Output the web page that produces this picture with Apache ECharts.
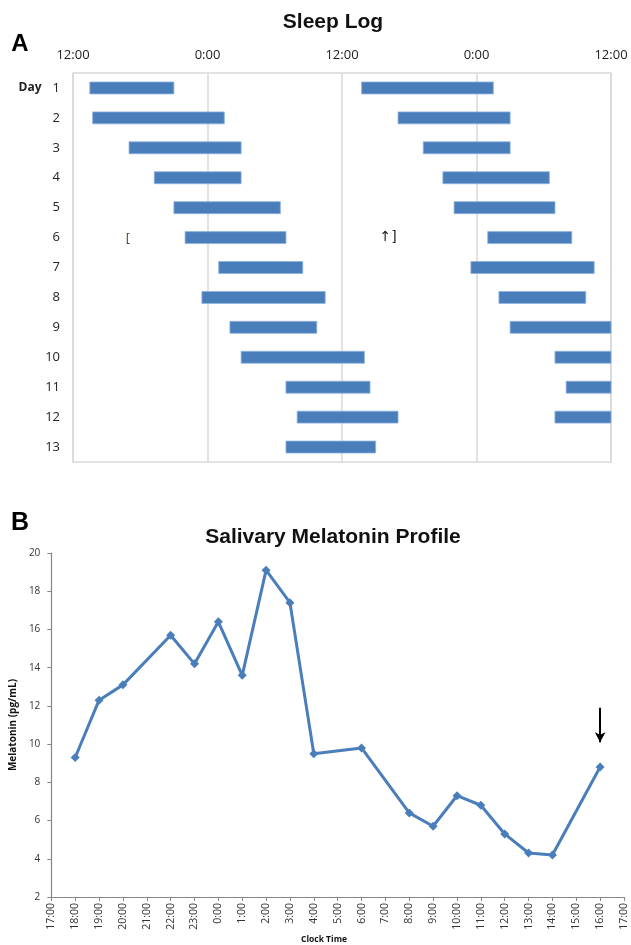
<!DOCTYPE html>
<html>
<head>
<meta charset="utf-8">
<script src="https://cdn.jsdelivr.net/npm/echarts@6/dist/echarts.min.js"></script>
<style>
  html, body { margin: 0; padding: 0; background: #ffffff; }
  #chart { width: 631px; height: 945px; }
</style>
</head>
<body>
<div id="chart"></div>
<script>
// ---- Sleep log (double-plotted): episodes in hours after noon of their own day ----
const days = ['1', '2', '3', '4', '5', '6', '7', '8', '9', '10', '11', '12', '13'];
const sleepOnset  = [1.5, 1.75, 5, 7.25, 9, 10, 13, 11.5, 14, 15, 19, 20, 19];
const sleepOffset = [9, 13.5, 15, 15, 18.5, 19, 20.5, 22.5, 21.75, 26, 26.5, 29, 27];
const logTicks = ['12:00', '0:00', '12:00', '0:00', '12:00'];

// ---- Salivary melatonin samples ----
const sampleTimes = ['18:00', '19:00', '20:00', '22:00', '23:00', '0:00', '1:00', '2:00', '3:00',
                     '4:00', '6:00', '8:00', '9:00', '10:00', '11:00', '12:00', '13:00', '14:00', '16:00'];
const melatonin = [9.3, 12.3, 13.1, 15.7, 14.2, 16.4, 13.6, 19.1, 17.4,
                   9.5, 9.8, 6.4, 5.7, 7.3, 6.8, 5.3, 4.3, 4.2, 8.8];
const arrowTime = '16:00';
const arrowSpan = [11.9, 10.1];

const BLUE = '#4a7ebb';
const LABEL_FONT = '"Open Sans", "Liberation Sans", sans-serif';
const TITLE_FONT = '"Liberation Sans", Arial, sans-serif';

// clock time -> hours on a 17:00..17:00 (+1 day) axis
function clockHours(t) {
  const [h, m] = t.split(':').map(Number);
  let v = h + m / 60;
  if (v < 17) v += 24;
  return v;
}

// left half: the day's own episode; right half: next day's episode shifted by 24 h
const sleepBars = [];
days.forEach((d, i) => {
  sleepBars.push([i, sleepOnset[i], sleepOffset[i]]);
  if (i + 1 < days.length) {
    sleepBars.push([i, sleepOnset[i + 1] + 24, sleepOffset[i + 1] + 24]);
  }
});

const melatoninPoints = sampleTimes.map((t, i) => [clockHours(t), melatonin[i]]);
const arrowX = clockHours(arrowTime);

function renderSleepBar(params, api) {
  const row = api.value(0);
  const p0 = api.coord([api.value(1), row]);
  const p1 = api.coord([api.value(2), row]);
  const h = api.size([0, 1])[1] * 0.4;
  const cs = params.coordSys;
  const shape = echarts.graphic.clipRectByRect(
    { x: p0[0], y: p0[1] - h / 2, width: p1[0] - p0[0], height: h },
    { x: cs.x, y: cs.y, width: cs.width, height: cs.height }
  );
  return shape && {
    type: 'rect',
    shape: shape,
    style: { fill: BLUE, stroke: '#8db3e2', lineWidth: 0.8 }
  };
}

const chart = echarts.init(document.getElementById('chart'), null, { renderer: 'canvas' });

chart.setOption({
  animation: false,
  backgroundColor: '#ffffff',
  grid: [
    { left: 73, top: 73, width: 538, height: 389, show: true, borderColor: '#d9d9d9', borderWidth: 1.5, backgroundColor: 'transparent' },
    { left: 49, top: 553, width: 575, height: 344 }
  ],
  xAxis: [
    {
      gridIndex: 0, type: 'value', position: 'top', min: 0, max: 48, interval: 12,
      axisLine: { show: false }, axisTick: { show: false },
      splitLine: { show: true, lineStyle: { color: '#d9d9d9', width: 1.5 } },
      axisLabel: {
        margin: 11, fontSize: 13, fontFamily: LABEL_FONT, color: '#222',
        formatter: v => logTicks[Math.round(v / 12)]
      }
    },
    {
      gridIndex: 1, type: 'value', min: 17, max: 41, interval: 1,
      axisLine: { show: true, lineStyle: { color: '#868686', width: 1.2 } },
      axisTick: { show: true, length: 4, lineStyle: { color: '#868686' } },
      splitLine: { show: false },
      axisLabel: {
        rotate: 90, margin: 6, fontSize: 10.5, fontFamily: LABEL_FONT, color: '#333',
        formatter: v => (Math.round(v) % 24) + ':00'
      }
    }
  ],
  yAxis: [
    {
      gridIndex: 0, type: 'category', data: days, inverse: true,
      axisLine: { show: false }, axisTick: { show: false }, splitLine: { show: false },
      axisLabel: {
        margin: 13, fontSize: 13, fontFamily: LABEL_FONT, color: '#222',
        formatter: v => v === days[0] ? '{day|Day}' + v : v,
        rich: {
          day: { fontSize: 12, fontWeight: 'bold', fontFamily: LABEL_FONT, color: '#222', padding: [0, 11, 0, 0] }
        }
      }
    },
    {
      gridIndex: 1, type: 'value', min: 2, max: 20, interval: 2,
      name: 'Melatonin (pg/mL)', nameLocation: 'middle', nameGap: 31, nameRotate: 90,
      nameTextStyle: { fontSize: 10, fontWeight: 'bold', fontFamily: LABEL_FONT, color: '#111' },
      axisLine: { show: true, lineStyle: { color: '#868686', width: 1.2 } },
      axisTick: { show: true, length: 4, lineStyle: { color: '#868686' } },
      splitLine: { show: false },
      axisLabel: { margin: 11, fontSize: 10, fontFamily: LABEL_FONT, color: '#333' }
    }
  ],
  series: [
    {
      type: 'custom', xAxisIndex: 0, yAxisIndex: 0,
      renderItem: renderSleepBar,
      encode: { x: [1, 2], y: 0 },
      data: sleepBars
    },
    {
      type: 'line', xAxisIndex: 1, yAxisIndex: 1,
      data: melatoninPoints,
      symbol: 'diamond', symbolSize: 9, showAllSymbol: true,
      lineStyle: { color: BLUE, width: 3 },
      itemStyle: { color: BLUE },
      markLine: {
        silent: true,
        symbol: ['none', 'arrow'], symbolSize: [8, 10],
        label: { show: false },
        lineStyle: { color: '#000', width: 2, type: 'solid' },
        data: [[{ coord: [arrowX, arrowSpan[0]] }, { coord: [arrowX, arrowSpan[1]] }]]
      }
    }
  ],
  graphic: [
    { type: 'text', x: 20, y: 44, style: { text: 'A', font: 'bold 24px ' + TITLE_FONT, fill: '#000', align: 'center', verticalAlign: 'middle' } },
    { type: 'text', x: 333, y: 22, style: { text: 'Sleep Log', font: 'bold 21px ' + TITLE_FONT, fill: '#111', align: 'center', verticalAlign: 'middle' } },
    { type: 'text', x: 128, y: 238, style: { text: '[', font: '13px ' + LABEL_FONT, fill: '#5a3a10', align: 'center', verticalAlign: 'middle' } },
    { type: 'text', x: 388, y: 237, style: { text: '↑]', font: '14px "DejaVu Sans", sans-serif', fill: '#222', align: 'center', verticalAlign: 'middle' } },
    { type: 'text', x: 20, y: 523, style: { text: 'B', font: 'bold 25px ' + TITLE_FONT, fill: '#000', align: 'center', verticalAlign: 'middle' } },
    { type: 'text', x: 333, y: 537, style: { text: 'Salivary Melatonin Profile', font: 'bold 21px ' + TITLE_FONT, fill: '#111', align: 'center', verticalAlign: 'middle' } },
    { type: 'text', x: 324, y: 940, style: { text: 'Clock Time', font: 'bold 8.5px ' + LABEL_FONT, fill: '#111', align: 'center', verticalAlign: 'middle' } }
  ]
});
</script>
</body>
</html>
